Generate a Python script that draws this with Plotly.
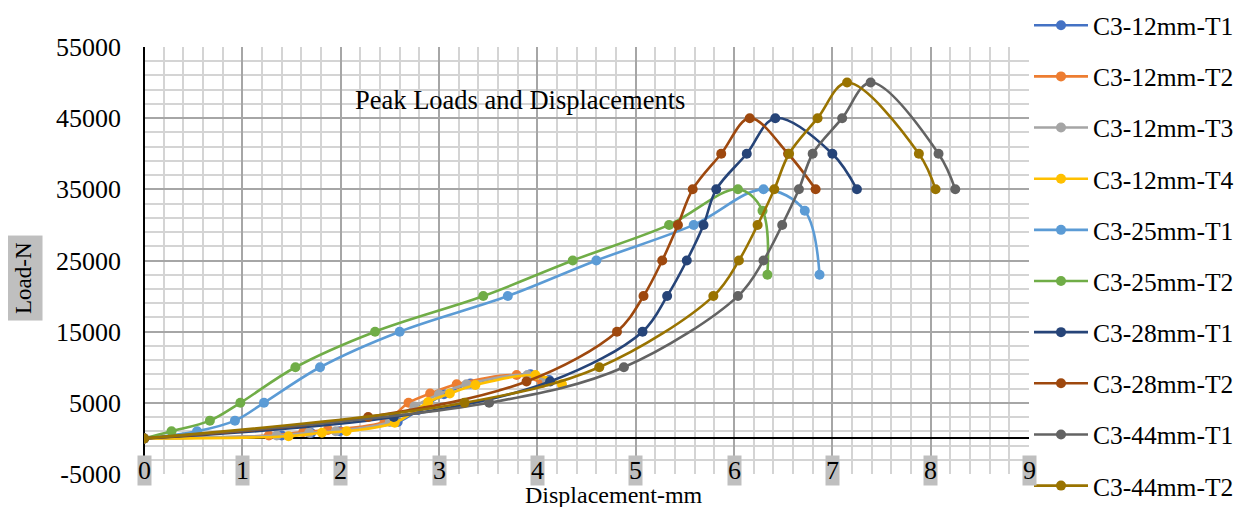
import plotly.graph_objects as go

# ---------------- data ----------------
series_names = ["C3-12mm-T1", "C3-12mm-T2", "C3-12mm-T3", "C3-12mm-T4",
                "C3-25mm-T1", "C3-25mm-T2", "C3-28mm-T1", "C3-28mm-T2",
                "C3-44mm-T1", "C3-44mm-T2"]
series_colors = ["#4472C4", "#ED7D31", "#A5A5A5", "#FFC000", "#5B9BD5",
                 "#70AD47", "#264478", "#9E480E", "#636363", "#997300"]

x_12_t1 = [0, 1.40, 1.70, 1.99, 2.58, 2.79, 3.05, 3.32, 3.93, 4.12]
y_12_t1 = [0, 400, 750, 1000, 2300, 4000, 6200, 7700, 9000, 8200]
x_12_t2 = [0, 1.27, 1.62, 1.87, 2.45, 2.69, 2.91, 3.18, 3.79, 4.05]
y_12_t2 = [0, 400, 900, 1200, 2400, 5000, 6300, 7600, 8900, 7800]
x_12_t3 = [0, 1.35, 1.68, 1.95, 2.50, 2.75, 3.00, 3.28, 3.90, 4.10]
y_12_t3 = [0, 400, 800, 1000, 2300, 4500, 6200, 7600, 8900, 8000]
x_12_t4 = [0, 1.47, 1.81, 2.06, 2.55, 2.89, 3.11, 3.37, 3.98, 4.25]
y_12_t4 = [0, 300, 800, 1000, 2200, 5100, 6300, 7500, 8900, 7600]
x_25_t1 = [0, 0.54, 0.925, 1.22, 1.79, 2.60, 3.70, 4.60, 5.59, 6.30, 6.72, 6.87]
y_25_t1 = [0, 1000, 2500, 5000, 10000, 15000, 20000, 25000, 30000, 35000, 32000, 23000]
x_25_t2 = [0, 0.28, 0.67, 0.98, 1.54, 2.35, 3.45, 4.36, 5.34, 6.04, 6.29, 6.34]
y_25_t2 = [0, 1000, 2500, 5000, 10000, 15000, 20000, 25000, 30000, 35000, 32000, 23000]
x_28_t1 = [0, 2.54, 4.13, 5.07, 5.32, 5.52, 5.69, 5.82, 6.13, 6.42, 7.00, 7.25]
y_28_t1 = [0, 3000, 8000, 15000, 20000, 25000, 30000, 35000, 40000, 45000, 40000, 35000]
x_28_t2 = [0, 2.28, 3.89, 4.81, 5.08, 5.27, 5.43, 5.58, 5.87, 6.16, 6.55, 6.83]
y_28_t2 = [0, 3000, 8000, 15000, 20000, 25000, 30000, 35000, 40000, 45000, 40000, 35000]
x_44_t1 = [0, 3.51, 4.88, 6.04, 6.30, 6.49, 6.66, 6.80, 7.10, 7.39, 8.08, 8.25]
y_44_t1 = [0, 5000, 10000, 20000, 25000, 30000, 35000, 40000, 45000, 50000, 40000, 35000]
x_44_t2 = [0, 3.26, 4.63, 5.79, 6.05, 6.24, 6.41, 6.56, 6.85, 7.15, 7.88, 8.05]
y_44_t2 = [0, 5000, 10000, 20000, 25000, 30000, 35000, 40000, 45000, 50000, 40000, 35000]

series_x = [x_12_t1, x_12_t2, x_12_t3, x_12_t4, x_25_t1, x_25_t2, x_28_t1, x_28_t2, x_44_t1, x_44_t2]
series_y = [y_12_t1, y_12_t2, y_12_t3, y_12_t4, y_25_t1, y_25_t2, y_28_t1, y_28_t2, y_44_t1, y_44_t2]

x_ticks = [0, 1, 2, 3, 4, 5, 6, 7, 8, 9]
y_ticks = [-5000, 5000, 15000, 25000, 35000, 45000, 55000]
y_tick_labels = ["-5000", "5000", "15000", "25000", "35000", "45000", "55000"]

chart_title = "Peak Loads and Displacements"
x_title = "Displacement-mm"
y_title = "Load-N"

# ---------------- figure ----------------
FONT = "Liberation Serif, Times New Roman, serif"
fig = go.Figure()
for name, col, xs, ys in zip(series_names, series_colors, series_x, series_y):
    fig.add_trace(go.Scatter(
        x=xs, y=ys, name=name, mode="lines+markers",
        line=dict(color=col, width=2.6, shape="spline", smoothing=1),
        marker=dict(color=col, size=10),
        legendgroup=name,
    ))

# page body has an 8px margin, so the figure is 8px smaller and shifted
fig.update_layout(
    width=1236, height=499,
    margin=dict(l=136, r=215, t=39, b=33, autoexpand=False),
    paper_bgcolor="white", plot_bgcolor="white",
    font=dict(family=FONT, color="black", size=25),
    showlegend=True,
    legend=dict(x=1.0, y=1.105, xanchor="left", yanchor="top",
                font=dict(family=FONT, size=25.5, color="black"),
                itemwidth=54, tracegroupgap=15.0, bgcolor="rgba(0,0,0,0)",
                borderwidth=0, maxheight=700),
)

fig.update_xaxes(
    range=[0, 9], dtick=1, tick0=0,
    showgrid=True, gridcolor="#a6a6a6", gridwidth=1.5,
    minor=dict(dtick=0.2, tick0=0, showgrid=True, gridcolor="#d4d4d4", gridwidth=1.5),
    showticklabels=False, ticks="",
    zeroline=True, zerolinecolor="black", zerolinewidth=2,
    showline=False,
)
fig.update_yaxes(
    range=[-5000, 55000], tickmode="array", tickvals=y_ticks, ticktext=y_tick_labels,
    showgrid=True, gridcolor="#a6a6a6", gridwidth=1.5,
    minor=dict(dtick=2000, tick0=-5000, showgrid=True, gridcolor="#d4d4d4", gridwidth=1.5),
    ticks="", ticklabelstandoff=22,
    tickfont=dict(family=FONT, size=26, color="black"),
    zeroline=True, zerolinecolor="black", zerolinewidth=2,
    showline=False,
)

# x tick labels with grey boxes
for t in x_ticks:
    fig.add_annotation(x=t, y=-5000, xref="x", yref="y", text=str(t),
                       showarrow=False, yanchor="middle", xanchor="center", yshift=4,
                       font=dict(family=FONT, size=26, color="black"),
                       bgcolor="#bfbfbf", borderpad=0)

fig.add_annotation(x=0.425, y=0.876, xref="paper", yref="paper", text=chart_title,
                   showarrow=False, xanchor="center", yanchor="middle",
                   font=dict(family=FONT, size=26.5, color="black"))
fig.add_annotation(x=0.531, y=-0.049, xref="paper", yref="paper", text=x_title,
                   showarrow=False, xanchor="center", yanchor="middle",
                   font=dict(family=FONT, size=24, color="black"))
fig.add_annotation(x=-0.1367, y=0.459, xref="paper", yref="paper", text=y_title,
                   showarrow=False, xanchor="center", yanchor="middle", textangle=-90,
                   font=dict(family=FONT, size=23, color="black"),
                   bgcolor="#bfbfbf", borderpad=6)

fig.write_html("out.html")
